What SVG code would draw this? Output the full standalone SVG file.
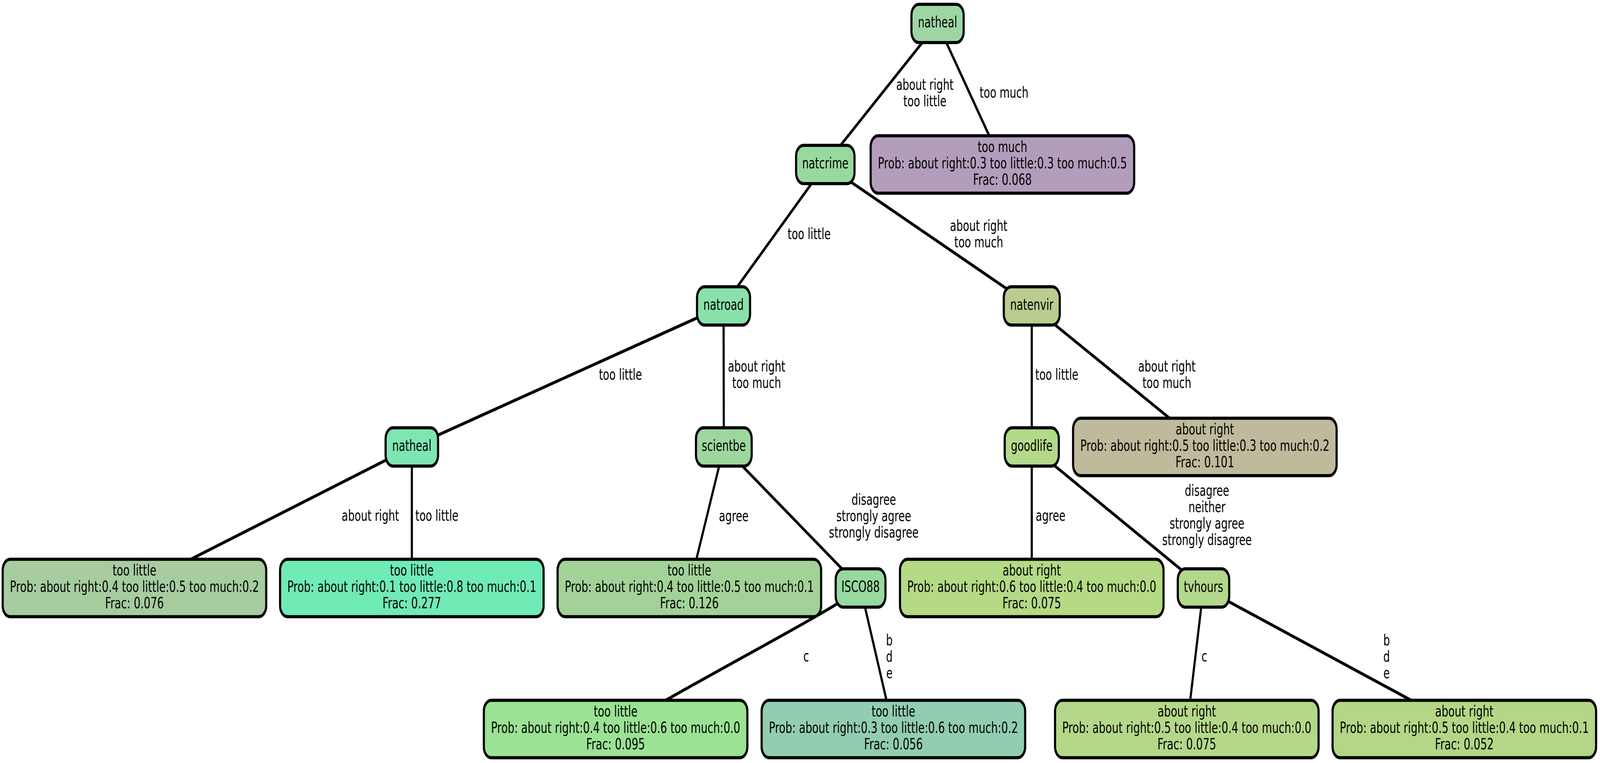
<svg xmlns="http://www.w3.org/2000/svg" width="5944" height="1953" viewBox="0 0 5944 1953" preserveAspectRatio="none" style="width:100vw;height:100vh">
<style>
.bg{fill:#ffffff}
.n rect{stroke:#000;stroke-width:8}
text{font-family:"DejaVu Sans","Liberation Sans",sans-serif;font-size:38.6px;fill:#000;text-anchor:middle}
.leaf text{font-size:39px}
.lbl text{font-size:38.4px}
.e{fill:none;stroke:#000;stroke-width:8}
</style>
<rect class="bg" x="0" y="0" width="5944" height="1953"/>
<g id="connectors">
<line class="e" x1="3483" y1="60" x2="3066" y2="421"/>
<line class="e" x1="3483" y1="60" x2="3724" y2="421"/>
<line class="e" x1="3066" y1="421" x2="2688" y2="783"/>
<line class="e" x1="3066" y1="421" x2="3833" y2="783"/>
<line class="e" x1="2688" y1="783" x2="1530" y2="1144"/>
<line class="e" x1="2688" y1="783" x2="2689" y2="1144"/>
<line class="e" x1="3833" y1="783" x2="3833" y2="1144"/>
<line class="e" x1="3833" y1="783" x2="4476" y2="1144"/>
<line class="e" x1="1530" y1="1144" x2="499" y2="1505"/>
<line class="e" x1="1530" y1="1144" x2="1530" y2="1505"/>
<line class="e" x1="2689" y1="1144" x2="2561" y2="1505"/>
<line class="e" x1="2689" y1="1144" x2="3197" y2="1505"/>
<line class="e" x1="3833" y1="1144" x2="3833" y2="1505"/>
<line class="e" x1="3833" y1="1144" x2="4471" y2="1505"/>
<path class="e" d="M3197,1505 C3100,1560 2700,1700 2286,1866"/>
<line class="e" x1="3197" y1="1505" x2="3318" y2="1866"/>
<line class="e" x1="4471" y1="1505" x2="4409" y2="1866"/>
<line class="e" x1="4471" y1="1505" x2="5440" y2="1866"/>
<g class="lbl">
<text x="3436" y="230">about right</text>
<text x="3436" y="272">too little</text>
<text x="3730" y="250">too much</text>
<text x="3006" y="612">too little</text>
<text x="3636" y="591">about right</text>
<text x="3636" y="633">too much</text>
<text x="2305" y="972">too little</text>
<text x="2811" y="951">about right</text>
<text x="2811" y="993">too much</text>
<text x="3926" y="972">too little</text>
<text x="4335" y="951">about right</text>
<text x="4335" y="993">too much</text>
<text x="1376" y="1333">about right</text>
<text x="1623" y="1333">too little</text>
<text x="2726" y="1334">agree</text>
<text x="3246" y="1292">disagree</text>
<text x="3246" y="1334">strongly agree</text>
<text x="3246" y="1376">strongly disagree</text>
<text x="3903" y="1333">agree</text>
<text x="4484" y="1269">disagree</text>
<text x="4484" y="1311">neither</text>
<text x="4484" y="1353">strongly agree</text>
<text x="4484" y="1395">strongly disagree</text>
<text x="2995" y="1693">c</text>
<text x="3304" y="1652">b</text>
<text x="3304" y="1694">d</text>
<text x="3304" y="1736">e</text>
<text x="4474" y="1693">c</text>
<text x="5151" y="1652">b</text>
<text x="5151" y="1694">d</text>
<text x="5151" y="1736">e</text>
</g>
</g>
<g id="n_root" class="n"><rect x="3386" y="11" width="194" height="98" rx="28" fill="#9dd6a4"/><text x="3483" y="70">natheal</text></g>
<g id="n_natcrime" class="n"><rect x="2957.5" y="372" width="217" height="98" rx="28" fill="#99d99f"/><text x="3066" y="431">natcrime</text></g>
<g id="n_leaf_toomuch" class="n leaf"><rect x="3234.5" y="347.5" width="979" height="147" rx="28" fill="#b39dbd"/><text x="3724" y="389">too much</text><text x="3724" y="431">Prob: about right:0.3 too little:0.3 too much:0.5</text><text x="3724" y="473">Frac: 0.068</text></g>
<g id="n_natroad" class="n"><rect x="2589.5" y="734" width="197" height="98" rx="28" fill="#8ae0aa"/><text x="2688" y="793">natroad</text></g>
<g id="n_natenvir" class="n"><rect x="3729" y="734" width="208" height="98" rx="28" fill="#b8cd8f"/><text x="3833" y="793">natenvir</text></g>
<g id="n_natheal2" class="n"><rect x="1432.5" y="1095" width="195" height="98" rx="28" fill="#7ee6b2"/><text x="1530" y="1154">natheal</text></g>
<g id="n_scientbe" class="n"><rect x="2585.5" y="1095" width="207" height="98" rx="28" fill="#9dd79e"/><text x="2689" y="1154">scientbe</text></g>
<g id="n_goodlife" class="n"><rect x="3732.5" y="1095" width="201" height="98" rx="28" fill="#b3d98a"/><text x="3833" y="1154">goodlife</text></g>
<g id="n_leaf_envir" class="n leaf"><rect x="3986.5" y="1070.5" width="979" height="147" rx="28" fill="#bfba9b"/><text x="4476" y="1112">about right</text><text x="4476" y="1154">Prob: about right:0.5 too little:0.3 too much:0.2</text><text x="4476" y="1196">Frac: 0.101</text></g>
<g id="n_leaf_076" class="n leaf"><rect x="10" y="1431.5" width="979" height="147" rx="28" fill="#a6cca0"/><text x="499.5" y="1473">too little</text><text x="499.5" y="1515">Prob: about right:0.4 too little:0.5 too much:0.2</text><text x="499.5" y="1557">Frac: 0.076</text></g>
<g id="n_leaf_277" class="n leaf"><rect x="1040.5" y="1431.5" width="979" height="147" rx="28" fill="#70ebb6"/><text x="1530" y="1473">too little</text><text x="1530" y="1515">Prob: about right:0.1 too little:0.8 too much:0.1</text><text x="1530" y="1557">Frac: 0.277</text></g>
<g id="n_leaf_126" class="n leaf"><rect x="2071.5" y="1431.5" width="979" height="147" rx="28" fill="#a2d298"/><text x="2561" y="1473">too little</text><text x="2561" y="1515">Prob: about right:0.4 too little:0.5 too much:0.1</text><text x="2561" y="1557">Frac: 0.126</text></g>
<g id="n_isco88" class="n"><rect x="3104.5" y="1456" width="185" height="98" rx="28" fill="#97d99f"/><text x="3197" y="1515">ISCO88</text></g>
<g id="n_leaf_075a" class="n leaf"><rect x="3343.5" y="1431.5" width="979" height="147" rx="28" fill="#b4da86"/><text x="3833" y="1473">about right</text><text x="3833" y="1515">Prob: about right:0.6 too little:0.4 too much:0.0</text><text x="3833" y="1557">Frac: 0.075</text></g>
<g id="n_tvhours" class="n"><rect x="4375.5" y="1456" width="191" height="98" rx="28" fill="#b3d78b"/><text x="4471" y="1515">tvhours</text></g>
<g id="n_leaf_095" class="n leaf"><rect x="1797.5" y="1792.5" width="979" height="147" rx="28" fill="#9be294"/><text x="2287" y="1834">too little</text><text x="2287" y="1876">Prob: about right:0.4 too little:0.6 too much:0.0</text><text x="2287" y="1918">Frac: 0.095</text></g>
<g id="n_leaf_056" class="n leaf"><rect x="2829.5" y="1792.5" width="979" height="147" rx="28" fill="#92cdb0"/><text x="3319" y="1834">too little</text><text x="3319" y="1876">Prob: about right:0.3 too little:0.6 too much:0.2</text><text x="3319" y="1918">Frac: 0.056</text></g>
<g id="n_leaf_075b" class="n leaf"><rect x="3919.5" y="1792.5" width="979" height="147" rx="28" fill="#b4d889"/><text x="4409" y="1834">about right</text><text x="4409" y="1876">Prob: about right:0.5 too little:0.4 too much:0.0</text><text x="4409" y="1918">Frac: 0.075</text></g>
<g id="n_leaf_052" class="n leaf"><rect x="4950.5" y="1792.5" width="979" height="147" rx="28" fill="#b3d786"/><text x="5440" y="1834">about right</text><text x="5440" y="1876">Prob: about right:0.5 too little:0.4 too much:0.1</text><text x="5440" y="1918">Frac: 0.052</text></g>
</svg>
